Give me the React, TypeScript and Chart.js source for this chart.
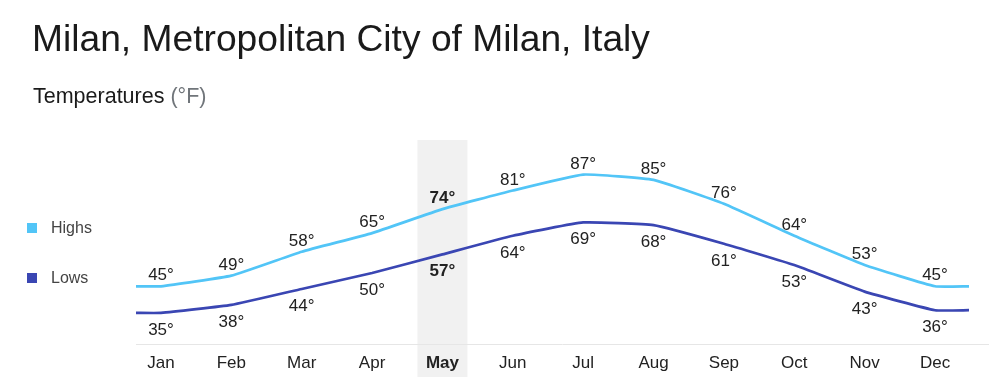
import React, { useEffect, useRef } from "react";
import { Chart, registerables } from "chart.js";

Chart.register(...registerables);

const months = ["Jan", "Feb", "Mar", "Apr", "May", "Jun", "Jul", "Aug", "Sep", "Oct", "Nov", "Dec"];
const highs = [45, 49, 58, 65, 74, 81, 87, 85, 76, 64, 53, 45];
const lows = [35, 38, 44, 50, 57, 64, 69, 68, 61, 53, 43, 36];
const highlightIndex = 4;

const X_MIN = -0.355;
const X_MAX = 11.753;
const LINE_START = -0.355;
const LINE_END = 11.483;
const Y_MIN = 23.3;
const Y_MAX = 100;

const FONT = "'Liberation Sans', Arial, Helvetica, sans-serif";
const HIGH_COLOR = "#52c5f7";
const LOW_COLOR = "#3a46b3";

function series(values: number[]) {
  return [
    { x: LINE_START, y: values[0] },
    ...values.map((v, i) => ({ x: i, y: v })),
    { x: LINE_END, y: values[values.length - 1] },
  ];
}

const bandPlugin = {
  id: "band",
  beforeDraw(chart: any) {
    const { ctx, chartArea, scales } = chart;
    const cx = scales.x.getPixelForValue(highlightIndex);
    ctx.save();
    ctx.fillStyle = "#f1f1f1";
    ctx.fillRect(cx - 25, chartArea.top, 50, chart.height - chartArea.top);
    ctx.restore();
  },
};

const labelPlugin = {
  id: "valueLabels",
  afterDatasetsDraw(chart: any) {
    const { ctx } = chart;
    ctx.save();
    ctx.textAlign = "center";
    ctx.textBaseline = "alphabetic";
    ctx.fillStyle = "#222";
    chart.data.datasets.forEach((ds: any, di: number) => {
      const meta = chart.getDatasetMeta(di);
      const vals = di === 0 ? highs : lows;
      vals.forEach((v, i) => {
        const pt = meta.data[i + 1];
        const bold = i === highlightIndex;
        ctx.font = `${bold ? "bold " : ""}17px ${FONT}`;
        const y = di === 0 ? pt.y - 6 : pt.y + 22;
        ctx.fillText(`${v}°`, pt.x, y);
      });
    });
    ctx.restore();
  },
};

export default function App() {
  const canvasRef = useRef<HTMLCanvasElement | null>(null);

  useEffect(() => {
    if (!canvasRef.current) return;
    const chart = new Chart(canvasRef.current, {
      type: "line",
      data: {
        datasets: [
          {
            label: "Highs",
            data: series(highs),
            borderColor: HIGH_COLOR,
            borderWidth: 2.7,
            pointRadius: 0,
            tension: 0.12,
            fill: false,
          },
          {
            label: "Lows",
            data: series(lows),
            borderColor: LOW_COLOR,
            borderWidth: 2.7,
            pointRadius: 0,
            tension: 0.12,
            fill: false,
          },
        ],
      },
      options: {
        animation: false,
        responsive: false,
        devicePixelRatio: 1,
        layout: { padding: { left: 136, right: 12, top: 140, bottom: 0 } },
        plugins: {
          legend: { display: false },
          tooltip: { enabled: false },
          title: { display: false },
        },
        scales: {
          x: {
            type: "linear",
            min: X_MIN,
            max: X_MAX,
            afterBuildTicks: (s: any) => {
              s.ticks = months.map((_, i) => ({ value: i }));
            },
            afterFit: (s: any) => {
              s.height = 33;
            },
            ticks: {
              autoSkip: false,
              maxRotation: 0,
              padding: 9,
              color: "#222",
              callback: (v: any) => months[v as number] ?? "",
              font: (ctx: any) => ({
                family: FONT,
                size: 17,
                weight: ctx.tick && ctx.tick.value === highlightIndex ? "bold" : "normal",
              }),
            },
            grid: { display: false, drawTicks: false },
            border: { display: true, color: "#e6e6e6", width: 1 },
          },
          y: {
            display: false,
            min: Y_MIN,
            max: Y_MAX,
          },
        },
      },
      plugins: [bandPlugin, labelPlugin],
    } as any);
    return () => chart.destroy();
  }, []);

  return (
    <div
      style={{
        position: "absolute",
        left: 0,
        top: 0,
        width: 1000,
        height: 377,
        overflow: "hidden",
        background: "#fff",
        fontFamily: FONT,
      }}
    >
      <canvas
        ref={canvasRef}
        width={1000}
        height={377}
        style={{ position: "absolute", left: 0, top: 0, width: 1000, height: 377 }}
      />
      <div
        style={{
          position: "absolute",
          left: 32,
          top: 20,
          fontSize: 37.2,
          lineHeight: "37px",
          color: "#1a1a1a",
          whiteSpace: "nowrap",
        }}
      >
        Milan, Metropolitan City of Milan, Italy
      </div>
      <div
        style={{
          position: "absolute",
          left: 33,
          top: 86,
          fontSize: 21.5,
          lineHeight: "21px",
          color: "#1a1a1a",
          whiteSpace: "nowrap",
        }}
      >
        Temperatures <span style={{ color: "#70757a" }}>(°F)</span>
      </div>
      <div style={{ position: "absolute", left: 27, top: 223, width: 10, height: 10, background: HIGH_COLOR }} />
      <div
        style={{ position: "absolute", left: 51, top: 220, fontSize: 16, lineHeight: "16px", color: "#444", whiteSpace: "nowrap" }}
      >
        Highs
      </div>
      <div style={{ position: "absolute", left: 27, top: 273, width: 10, height: 10, background: LOW_COLOR }} />
      <div
        style={{ position: "absolute", left: 51, top: 270, fontSize: 16, lineHeight: "16px", color: "#444", whiteSpace: "nowrap" }}
      >
        Lows
      </div>
    </div>
  );
}
